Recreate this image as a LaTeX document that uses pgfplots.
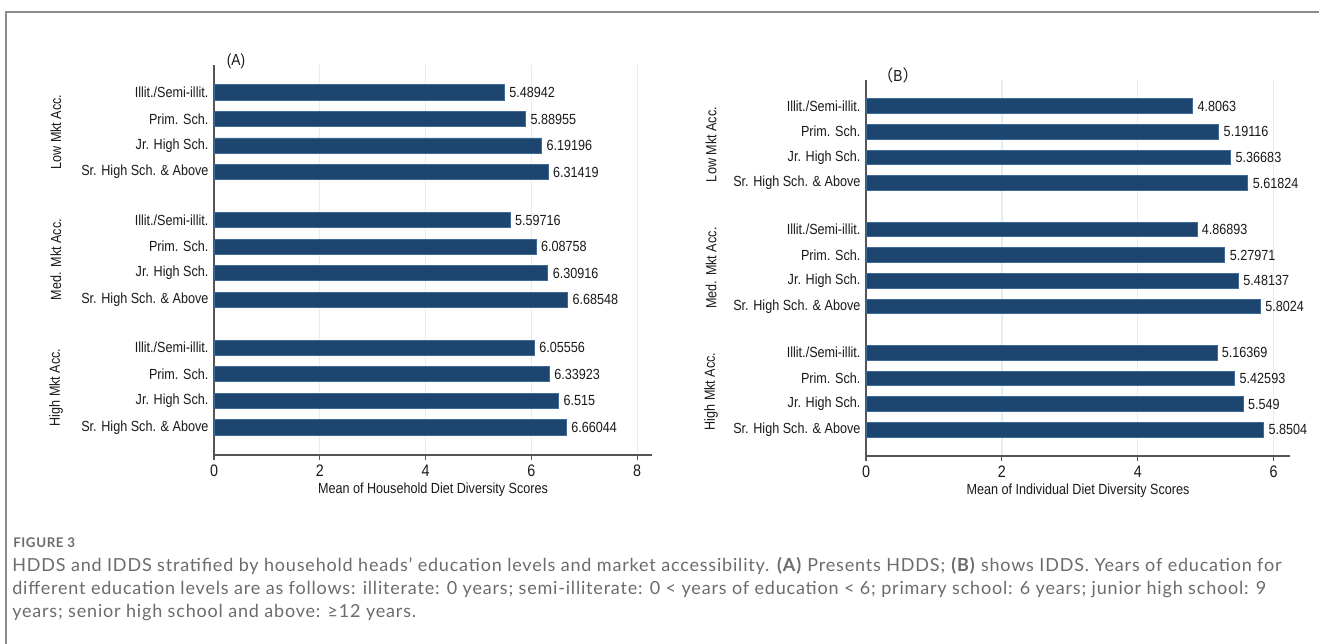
\documentclass[border=0pt]{standalone}
\usepackage{fontspec}
\setmainfont{Liberation Sans}[FakeStretch=0.86]
\newfontfamily\capfont{Lato}[LetterSpace=4.5]
\newfontfamily\cjk{Noto Sans CJK SC}
\usepackage{pgfplots}
\pgfplotsset{compat=1.18}
\usepackage{pgfplotstable}
\definecolor{barblue}{HTML}{1C4570}
\definecolor{baredge}{HTML}{3F6A93}
\definecolor{gridc}{HTML}{E4EEF0}
\definecolor{axc}{HTML}{555555}
\definecolor{txt}{HTML}{1A1A1A}
\definecolor{capgray}{HTML}{6C6C6C}
\definecolor{framec}{HTML}{8C8C8C}

\pgfplotstableread{
y x label
12.6 5.48942 5.48942
11.6 5.88955 5.88955
10.6 6.19196 6.19196
9.6 6.31419 6.31419
7.8 5.59716 5.59716
6.8 6.08758 6.08758
5.8 6.30916 6.30916
4.8 6.68548 6.68548
3 6.05556 6.05556
2 6.33923 6.33923
1 6.515 6.515
0 6.66044 6.66044
}\hdds

\pgfplotstableread{
y x label
12.6 4.8063 4.8063
11.6 5.19116 5.19116
10.6 5.36683 5.36683
9.6 5.61824 5.61824
7.8 4.86893 4.86893
6.8 5.27971 5.27971
5.8 5.48137 5.48137
4.8 5.80243 5.8024
3 5.16369 5.16369
2 5.42593 5.42593
1 5.549 5.549
0 5.8504 5.8504
}\idds

\pgfplotsset{ddsstyle/.style={
  scale only axis, xbar, bar width=0.57,
  /pgf/number format/assume math mode=true,
  axis x line=bottom, axis y line=left,
  axis line style={-, draw=axc, line width=0.9pt},
  tick align=outside, major tick length=4pt,
  xtick style={draw=axc, line width=0.8pt},
  ytick style={draw=none},
  xmajorgrids, major grid style={draw=gridc, line width=0.9pt},
  ytick={12.6,11.6,10.6,9.6,7.8,6.8,5.8,4.8,3,2,1,0},
  yticklabels={Illit./Semi-illit., Prim. Sch., Jr. High Sch., Sr. High Sch. \& Above,
               Illit./Semi-illit., Prim. Sch., Jr. High Sch., Sr. High Sch. \& Above,
               Illit./Semi-illit., Prim. Sch., Jr. High Sch., Sr. High Sch. \& Above},
  yticklabel style={font=\fontsize{11}{13}\selectfont, text=txt, inner sep=0pt},
  xticklabel style={font=\fontsize{12.5}{14}\selectfont, text=txt, inner sep=0pt, yshift=-3.5pt},
  xlabel style={font=\fontsize{11}{13}\selectfont, text=txt, inner sep=0pt, anchor=north, at={(axis description cs:0.5,0)}, yshift=-21pt},
  nodes near coords, point meta=explicit symbolic,
  nodes near coords style={font=\fontsize{11}{13}\selectfont, text=txt, anchor=west, inner sep=0pt, xshift=3.5pt},
  clip=false,
}}

\begin{document}
\begin{tikzpicture}
\useasboundingbox (0,0) rectangle (989.25pt,-482.25pt);
\fill[white] (0,0) rectangle (989.25pt,-482.25pt);

% Panel A
\begin{axis}[ddsstyle,
  at={(160.5pt,-341.25pt)}, anchor=south west,
  width=328.5pt, height=292.5pt,
  xmin=0, xmax=8.28, ymin=-1.04, ymax=13.63,
  xtick={0,2,4,6,8},
  xlabel={Mean of Household Diet Diversity Scores}]
\addplot[fill=barblue, draw=baredge, line width=0.5pt] table[x=x, y=y, meta=label] {\hdds};
\end{axis}

% Panel B
\begin{axis}[ddsstyle,
  at={(649.5pt,-342pt)}, anchor=south west,
  width=318pt, height=282pt,
  xmin=0, xmax=6.24, ymin=-1.02, ymax=13.61,
  xtick={0,2,4,6},
  xlabel={Mean of Individual Diet Diversity Scores}]
\addplot[fill=barblue, draw=baredge, line width=0.5pt] table[x=x, y=y, meta=label] {\idds};
\end{axis}

\begin{scope}[x=0.75pt, y=-0.75pt]
\draw[framec, line width=1.5pt] (6,650) -- (6,12) -- (1330,12);
\node[font=\fontsize{12}{14}\selectfont, text=txt] at (236,61) {(A)};
\node[font=\fontsize{12}{14}\selectfont, text=txt] at (898,75) {{\cjk （}B{\cjk ）}};
\node[rotate=90, font=\fontsize{11}{13}\selectfont, text=txt] at (56,132) {Low Mkt Acc.};
\node[rotate=90, font=\fontsize{11}{13}\selectfont, text=txt] at (56,259.5) {Med. Mkt Acc.};
\node[rotate=90, font=\fontsize{11}{13}\selectfont, text=txt] at (56,387.5) {High Mkt Acc.};
\node[rotate=90, font=\fontsize{11}{13}\selectfont, text=txt] at (711,144.5) {Low Mkt Acc.};
\node[rotate=90, font=\fontsize{11}{13}\selectfont, text=txt] at (711,268) {Med. Mkt Acc.};
\node[rotate=90, font=\fontsize{11}{13}\selectfont, text=txt] at (711,391.5) {High Mkt Acc.};

\node[anchor=base west, inner sep=0pt, font=\capfont\bfseries\fontsize{10}{12}\selectfont, text=capgray] at (13,547) {FIGURE 3};
\node[anchor=base west, inner sep=0pt, font=\capfont\fontsize{13.5}{16}\selectfont, text=capgray] at (12,571.5) {HDDS and IDDS stratified by household heads’ education levels and market accessibility. \textbf{(A)} Presents HDDS; \textbf{(B)} shows IDDS. Years of education for};
\node[anchor=base west, inner sep=0pt, font=\capfont\fontsize{13.5}{16}\selectfont, text=capgray] at (12,594.5) {different education levels are as follows: illiterate: 0 years; semi-illiterate: 0 < years of education < 6; primary school: 6 years; junior high school: 9};
\node[anchor=base west, inner sep=0pt, font=\capfont\fontsize{13.5}{16}\selectfont, text=capgray] at (12,617.5) {years; senior high school and above: ≥12 years.};
\end{scope}
\end{tikzpicture}
\end{document}
